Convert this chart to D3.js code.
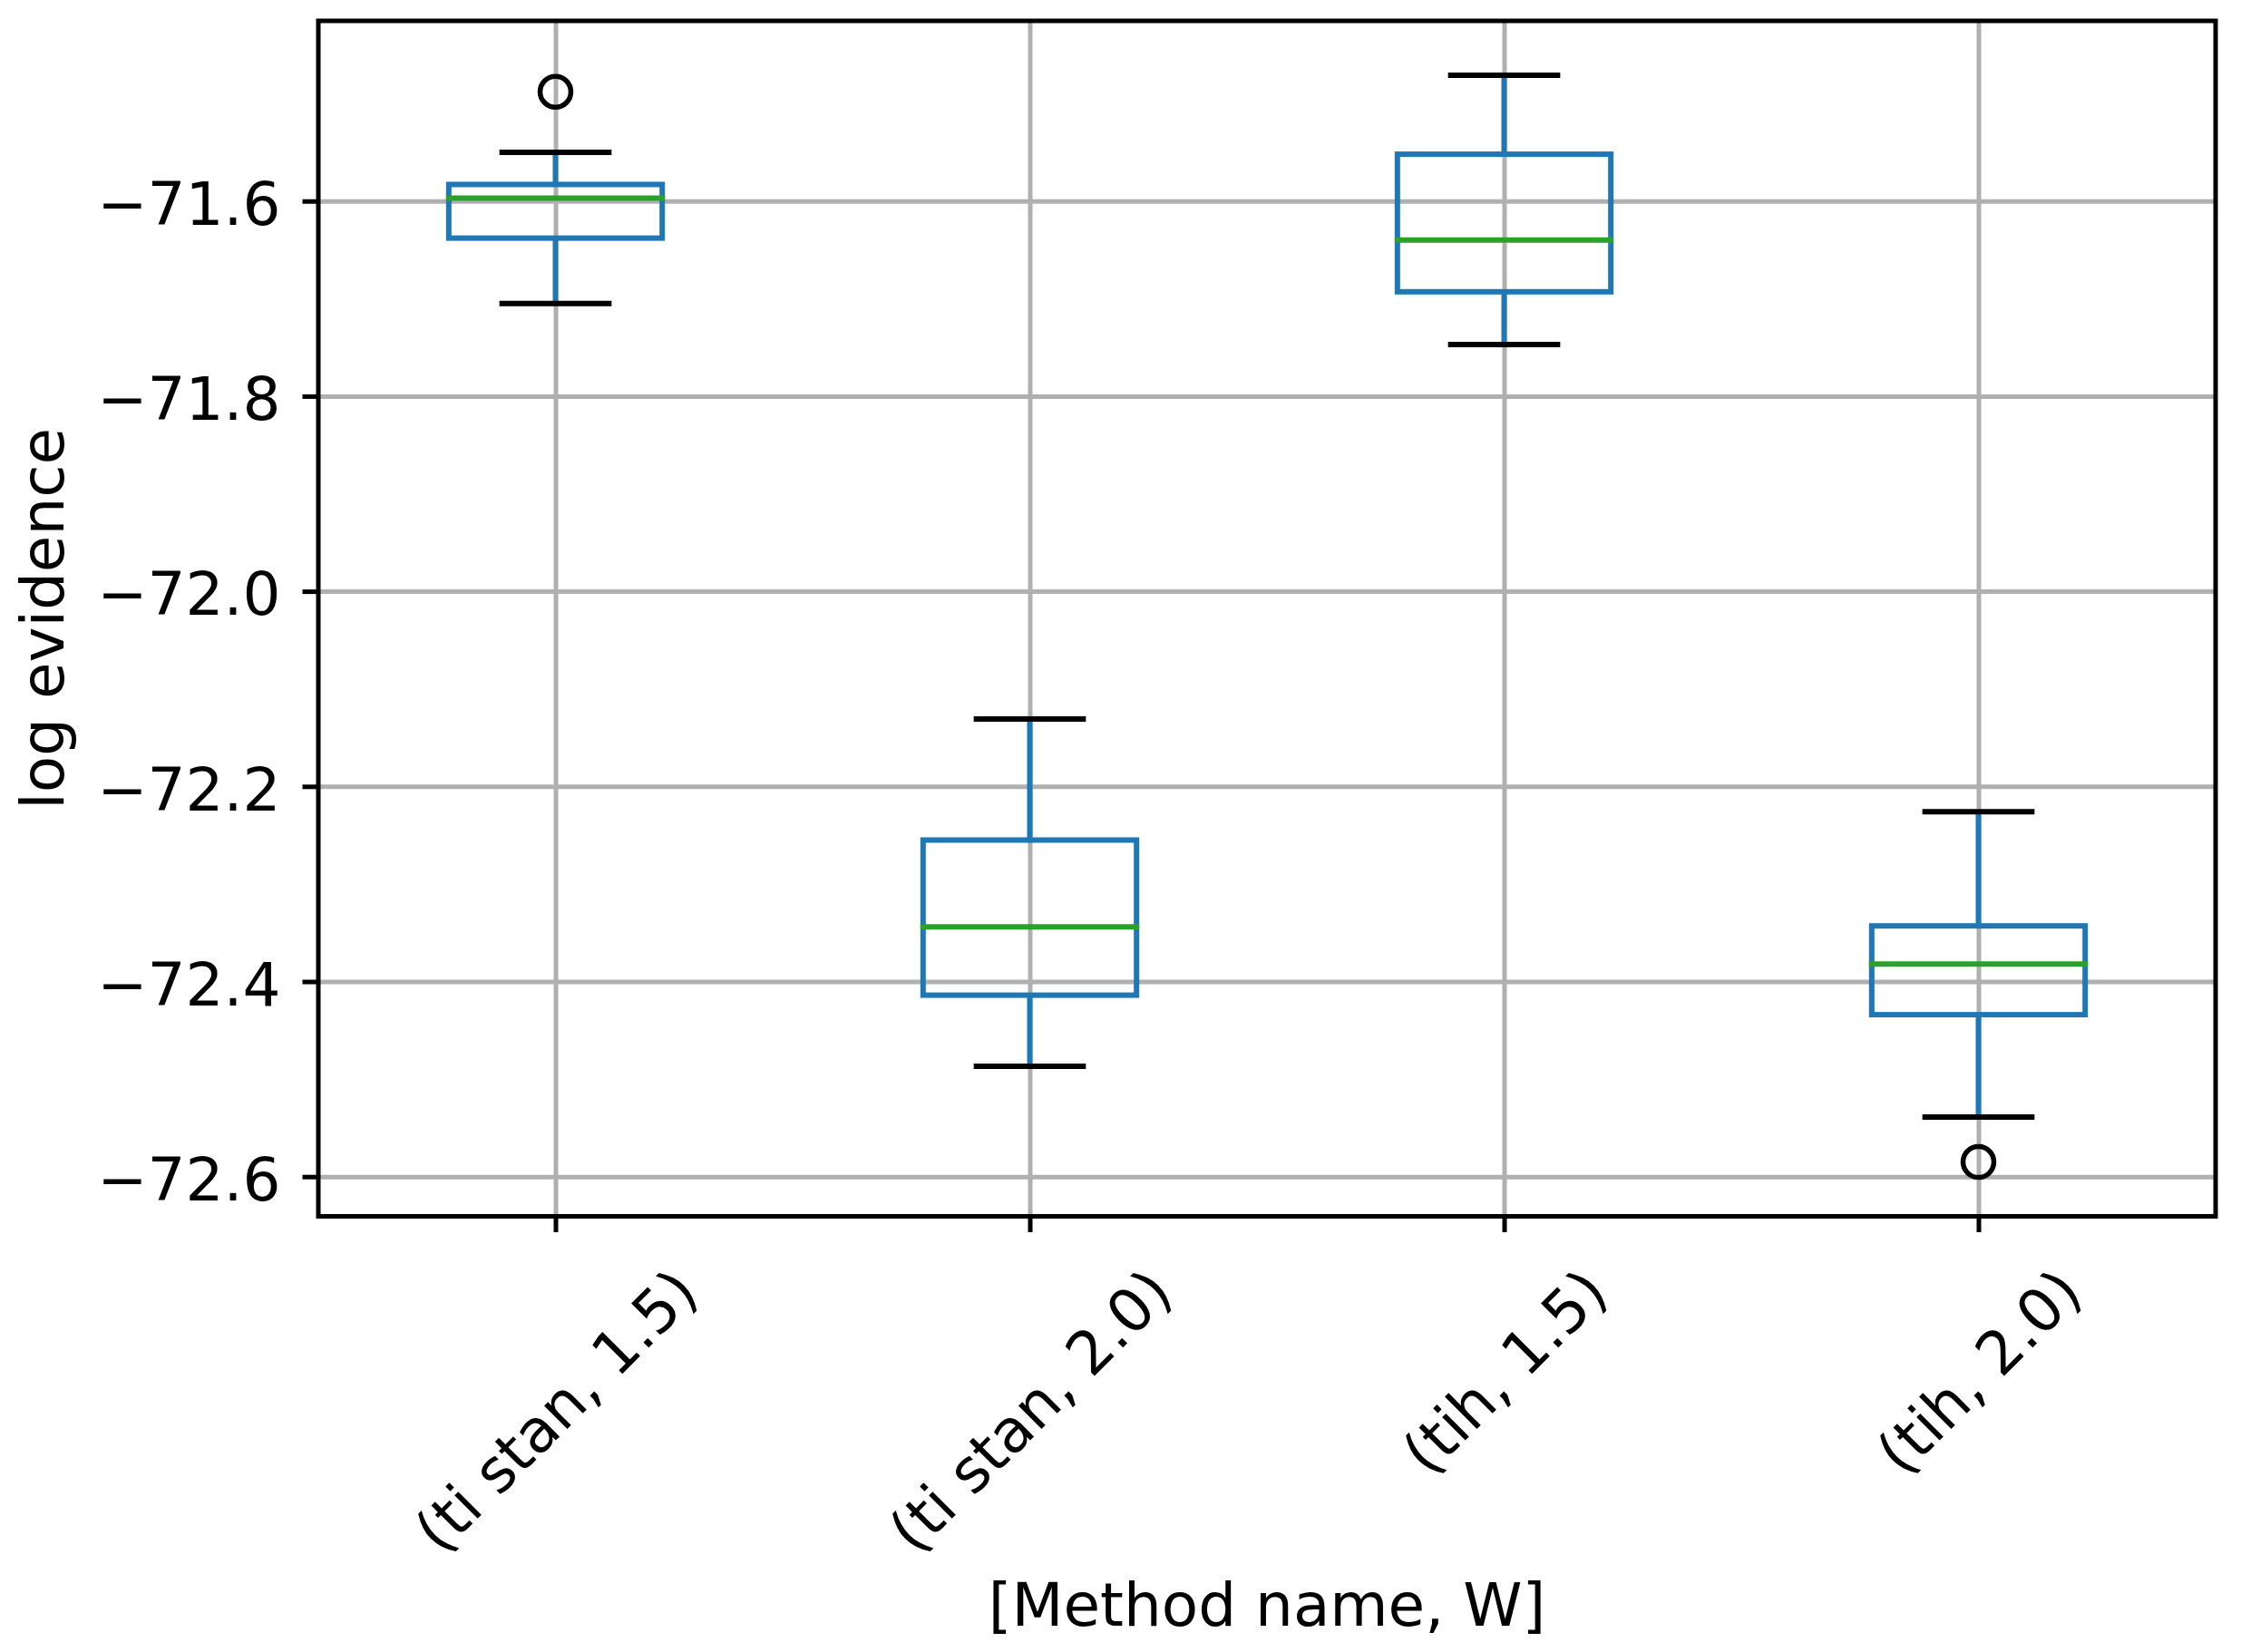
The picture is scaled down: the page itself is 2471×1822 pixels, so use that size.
<!DOCTYPE html>
<html>
<head>
<meta charset="utf-8">
<script src="https://cdn.jsdelivr.net/npm/d3@7"></script>
<style>
  body { margin: 0; background: #fff; }
  text { font-family: "DejaVu Sans", sans-serif; fill: #000; }
</style>
</head>
<body>
<script>
// box stats
const categories = ['(ti stan, 1.5)', '(ti stan, 2.0)', '(tih, 1.5)', '(tih, 2.0)'];
const whiskerHigh = [-71.550, -72.131, -71.471, -72.226];
const q3 = [-71.583, -72.255, -71.552, -72.343];
const medians = [-71.597, -72.344, -71.640, -72.382];
const q1 = [-71.638, -72.414, -71.693, -72.434];
const whiskerLow = [-71.705, -72.487, -71.747, -72.539];
const outliers = [[-71.488], [], [], [-72.585]];
const yTicks = [-71.6, -71.8, -72.0, -72.2, -72.4, -72.6];

const width = 2471, height = 1822;
const plotLeft = 351, plotRight = 2443, plotTop = 23, plotBottom = 1341.5;
const fontSize = 66;
const boxW = 0.45, capW = 0.225;
const lw = 6, thin = 5;

const svg = d3.select('body')
              .append('svg')
              .attr('width', width)
              .attr('height', height);

const xscale = d3.scaleLinear()
                .domain([0.5, 4.5])
                .range([plotLeft, plotRight]);

const yscale = d3.scaleLinear()
                .domain([-72.6407, -71.4153])
                .range([plotBottom, plotTop]);

const positions = categories.map((c, i) => i + 1);

// grid lines
svg.append('g')
  .attr('transform', `translate(${plotLeft},0)`)
  .call(d3.axisLeft(yscale).tickValues(yTicks).tickSize(-(plotRight - plotLeft)).tickFormat(''))
  .call(g => g.select('.domain').remove())
  .selectAll('line').attr('stroke', '#b0b0b0').attr('stroke-width', thin);

svg.append('g')
  .attr('transform', `translate(0,${plotBottom})`)
  .call(d3.axisBottom(xscale).tickValues(positions).tickSize(-(plotBottom - plotTop)).tickFormat(''))
  .call(g => g.select('.domain').remove())
  .selectAll('line').attr('stroke', '#b0b0b0').attr('stroke-width', thin);

// boxes
const boxes = svg.append('g').selectAll('g')
  .data(categories)
  .enter().append('g');

boxes.append('line')
  .attr('x1', (d, i) => xscale(i + 1)).attr('x2', (d, i) => xscale(i + 1))
  .attr('y1', (d, i) => yscale(q3[i])).attr('y2', (d, i) => yscale(whiskerHigh[i]))
  .attr('stroke', '#1f77b4').attr('stroke-width', lw);

boxes.append('line')
  .attr('x1', (d, i) => xscale(i + 1)).attr('x2', (d, i) => xscale(i + 1))
  .attr('y1', (d, i) => yscale(q1[i])).attr('y2', (d, i) => yscale(whiskerLow[i]))
  .attr('stroke', '#1f77b4').attr('stroke-width', lw);

[whiskerHigh, whiskerLow].forEach(arr => {
  boxes.append('line')
    .attr('x1', (d, i) => xscale(i + 1 - capW / 2)).attr('x2', (d, i) => xscale(i + 1 + capW / 2))
    .attr('y1', (d, i) => yscale(arr[i])).attr('y2', (d, i) => yscale(arr[i]))
    .attr('stroke', '#000').attr('stroke-width', lw).attr('stroke-linecap', 'square');
});

boxes.append('rect')
  .attr('x', (d, i) => xscale(i + 1 - boxW / 2))
  .attr('width', (d, i) => xscale(i + 1 + boxW / 2) - xscale(i + 1 - boxW / 2))
  .attr('y', (d, i) => yscale(q3[i]))
  .attr('height', (d, i) => yscale(q1[i]) - yscale(q3[i]))
  .attr('fill', 'none').attr('stroke', '#1f77b4').attr('stroke-width', lw);

boxes.append('line')
  .attr('x1', (d, i) => xscale(i + 1 - boxW / 2)).attr('x2', (d, i) => xscale(i + 1 + boxW / 2))
  .attr('y1', (d, i) => yscale(medians[i])).attr('y2', (d, i) => yscale(medians[i]))
  .attr('stroke', '#2ca02c').attr('stroke-width', lw).attr('stroke-linecap', 'square');

boxes.each(function(d, i) {
  d3.select(this).selectAll('circle')
    .data(outliers[i])
    .enter().append('circle')
    .attr('cx', xscale(i + 1))
    .attr('cy', v => yscale(v))
    .attr('r', 17)
    .attr('fill', 'none').attr('stroke', '#000').attr('stroke-width', 5.5);
});

// axes
const yAxis = svg.append('g')
  .attr('transform', `translate(${plotLeft},0)`)
  .call(d3.axisLeft(yscale).tickValues(yTicks).tickSize(17.5).tickPadding(24).tickFormat(d3.format('.1f')));
yAxis.select('.domain').remove();
yAxis.selectAll('line').attr('stroke', '#000').attr('stroke-width', thin);
yAxis.selectAll('text').attr('font-size', fontSize).attr('dy', '0.39em');

const xAxis = svg.append('g')
  .attr('transform', `translate(0,${plotBottom})`)
  .call(d3.axisBottom(xscale).tickValues(positions).tickSize(17.5).tickFormat(i => categories[i - 1]));
xAxis.select('.domain').remove();
xAxis.selectAll('line').attr('stroke', '#000').attr('stroke-width', thin);
xAxis.selectAll('text')
  .attr('font-size', fontSize)
  .attr('text-anchor', 'middle')
  .attr('y', 0)
  .attr('dy', '0.35em')
  .attr('transform', function() {
    const w = this.getComputedTextLength();
    const cy = 51.5 + 0.7071 * (w / 2 + 0.41 * fontSize);
    return `translate(0,${cy}) rotate(-45)`;
  });

// frame
svg.append('rect')
  .attr('x', plotLeft).attr('y', plotTop)
  .attr('width', plotRight - plotLeft).attr('height', plotBottom - plotTop)
  .attr('fill', 'none').attr('stroke', '#000').attr('stroke-width', thin);

// axis titles
svg.append('text')
  .attr('x', (plotLeft + plotRight) / 2).attr('y', 1793)
  .attr('text-anchor', 'middle')
  .attr('font-size', fontSize)
  .text('[Method name, W]');

svg.append('text')
  .attr('transform', `translate(69.5,${(plotTop + plotBottom) / 2}) rotate(-90)`)
  .attr('text-anchor', 'middle')
  .attr('font-size', fontSize)
  .text('log evidence');
</script>
</body>
</html>
